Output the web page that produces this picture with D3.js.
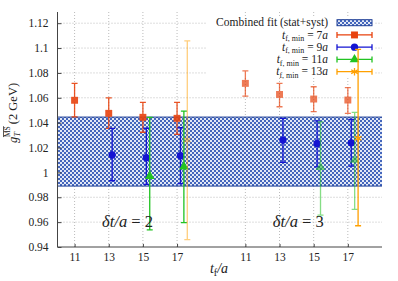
<!DOCTYPE html>
<meta charset="utf-8">
<style>
body { margin: 0; background: #fff; }
text { font-family: "Liberation Serif", serif; fill: #222; }
.grid line { stroke: #bbb; stroke-dasharray: 1,2; }
.axis path, .axis line { stroke: #444; }
</style>
<svg width="398" height="281"></svg>
<script src="https://d3js.org/d3.v7.min.js"></script>
<script>

// fit band (stat+syst)
var fitLo = 0.989, fitHi = 1.0445;

var yTicks = [0.94, 0.96, 0.98, 1, 1.02, 1.04, 1.06, 1.08, 1.1, 1.12];
var xTicks = [11, 13, 15, 17];
var groups = [2, 3];   // delta t / a

// t_f,min = 7a
var tf7 = [11, 13, 15, 17];
var g7dt2 = [1.058, 1.0475, 1.0443, 1.0435];
var g7dt2Lo = [1.0447, 1.0354, 1.0323, 1.0306];
var g7dt2Hi = [1.0716, 1.060, 1.0563, 1.0563];
var g7dt3 = [1.0716, 1.0627, 1.059, 1.0582];
var g7dt3Lo = [1.0614, 1.0528, 1.0488, 1.0475];
var g7dt3Hi = [1.0817, 1.0716, 1.0689, 1.0681];

// t_f,min = 9a
var tf9 = [13, 15, 17];
var g9dt2 = [1.014, 1.0118, 1.0134];
var g9dt2Lo = [0.9933, 0.9904, 0.991];
var g9dt2Hi = [1.0354, 1.0355, 1.0359];
var g9dt3 = [1.026, 1.0233, 1.0238];
var g9dt3Lo = [1.0081, 1.0045, 1.005];
var g9dt3Hi = [1.0435, 1.0415, 1.0426];

// t_f,min = 11a
var tf11 = [15, 17];
var g11dt2 = [0.997, 1.0045];
var g11dt2Lo = [0.9537, 0.9596];
var g11dt2Hi = [1.0443, 1.0493];
var g11dt3 = [1.0041, 1.0099];
var g11dt3Lo = [0.9657, 0.9703];
var g11dt3Hi = [1.0407, 1.0482];

// t_f,min = 13a
var tf13 = [17];
var g13dt2 = [1.026];
var g13dt2Lo = [0.946];
var g13dt2Hi = [1.1058];
var g13dt3 = [1.0274];
var g13dt3Lo = [0.9571];
var g13dt3Hi = [1.0989];

var series = [
  {min: "7a",  color: "#e8420e", shape: d3.symbolSquare,   size: 48, shift: 0,   tf: tf7,
   val: [g7dt2, g7dt3], lo: [g7dt2Lo, g7dt3Lo], hi: [g7dt2Hi, g7dt3Hi], op: [0.9, 0.7]},
  {min: "9a",  color: "#1414d2", shape: d3.symbolCircle,   size: 42, shift: 0.2, tf: tf9,
   val: [g9dt2, g9dt3], lo: [g9dt2Lo, g9dt3Lo], hi: [g9dt2Hi, g9dt3Hi], op: [1, 1]},
  {min: "11a", color: "#22c322", shape: d3.symbolTriangle, size: 40, shift: 0.4, tf: tf11,
   val: [g11dt2, g11dt3], lo: [g11dt2Lo, g11dt3Lo], hi: [g11dt2Hi, g11dt3Hi], op: [1, 0.55]},
  {min: "13a", color: "#ffa000", shape: d3.symbolAsterisk, size: 40, shift: 0.6, tf: tf13,
   val: [g13dt2, g13dt3], lo: [g13dt2Lo, g13dt3Lo], hi: [g13dt2Hi, g13dt3Hi], op: [0.5, 1]}
];

var svg = d3.select("svg");
var pL = 57.5, pR = 382, pT = 12, pB = 247;

// second group placed 10 units to the right on one axis
var x = d3.scaleLinear().domain([10, 29]).range([pL, pR]);
var y = d3.scaleLinear().domain([0.94, 1.129]).range([pB, pT]);
var allX = [];
groups.forEach(function(g, gi) { xTicks.forEach(function(t) { allX.push(t + gi * 10); }); });

var defs = svg.append("defs");
var pat = defs.append("pattern").attr("id", "hatch")
    .attr("patternUnits", "userSpaceOnUse").attr("width", 4).attr("height", 4);
pat.append("rect").attr("width", 4).attr("height", 4).attr("fill", "#e2e8f6");
pat.append("rect").attr("width", 2).attr("height", 2).attr("fill", "#4466bc");
pat.append("rect").attr("x", 2).attr("y", 2).attr("width", 2).attr("height", 2).attr("fill", "#4466bc");

// grid
var grid = svg.append("g").attr("class", "grid");
grid.selectAll(".gx").data(allX).enter().append("line")
    .attr("x1", function(d) { return x(d); }).attr("x2", function(d) { return x(d); })
    .attr("y1", pT).attr("y2", pB);
grid.selectAll(".gy").data(yTicks.slice(1)).enter().append("line")
    .attr("x1", pL).attr("x2", pR)
    .attr("y1", function(d) { return y(d); }).attr("y2", function(d) { return y(d); });

// fit band
svg.append("rect")
    .attr("x", pL).attr("width", pR - pL)
    .attr("y", y(fitHi)).attr("height", y(fitLo) - y(fitHi))
    .attr("fill", "url(#hatch)");
svg.selectAll(".bandedge").data([fitLo, fitHi]).enter().append("line")
    .attr("x1", pL).attr("x2", pR)
    .attr("y1", function(d) { return y(d); }).attr("y2", function(d) { return y(d); })
    .attr("stroke", "#1e3f96").attr("stroke-width", 1);

// axes
var xAxis = d3.axisBottom(x).tickValues(allX).tickSize(-3).tickPadding(6)
    .tickFormat(function(d) { return d > 20 ? d - 10 : d; });
var yAxis = d3.axisLeft(y).tickValues(yTicks).tickSize(-4).tickPadding(9)
    .tickFormat(function(d) { return d3.format("")(+d.toFixed(2)); });
var gx = svg.append("g").attr("class", "axis").attr("transform", "translate(0," + pB + ")").call(xAxis);
gx.select(".domain").attr("d", "M" + pL + ",0H" + pR);
var gy = svg.append("g").attr("class", "axis").attr("transform", "translate(" + pL + ",0)").call(yAxis);
gy.select(".domain").attr("d", "M0," + pT + "V" + pB);
svg.selectAll(".axis text").style("font-family", "Liberation Serif, serif").style("font-size", "11.5px").attr("fill", "#222");

// legend
var lg = svg.append("g");
lg.append("rect").attr("x", 207).attr("y", 16).attr("width", 167).attr("height", 62).attr("fill", "#fff");
var rowY = function(i) { return 22.7 + i * 12.25; };
lg.append("text").attr("x", 328).attr("y", rowY(0) + 3.7).attr("text-anchor", "end")
    .style("font-size", "11.5px").text("Combined fit (stat+syst)");
lg.append("rect").attr("x", 337).attr("y", rowY(0) - 3).attr("width", 35).attr("height", 6)
    .attr("fill", "url(#hatch)").attr("stroke", "#1e3f96");
series.forEach(function(s, i) {
  var ry = rowY(i + 1);
  var t = lg.append("text").attr("x", 328).attr("y", ry + 3.7).attr("text-anchor", "end").style("font-size", "11.5px");
  t.append("tspan").style("font-style", "italic").text("t");
  t.append("tspan").attr("dy", 2.5).style("font-size", "8px").text("f, min");
  t.append("tspan").attr("dy", -2.5).text(" = " + s.min.slice(0, -1));
  t.append("tspan").style("font-style", "italic").text("a");
  lg.append("path").attr("d", "M337," + (ry - 3) + "V" + (ry + 3) + "M337," + ry + "H372M372," + (ry - 3) + "V" + (ry + 3))
      .attr("stroke", s.color).attr("stroke-width", 1.3).attr("fill", "none");
  var sym = lg.append("path").attr("d", d3.symbol().type(s.shape).size(s.size))
      .attr("transform", "translate(354.5," + ry + ")");
  if (s.shape === d3.symbolAsterisk) sym.attr("fill", "none").attr("stroke", s.color).attr("stroke-width", 1.3);
  else sym.attr("fill", s.color);
});

// data points with error bars
series.forEach(function(s) {
  groups.forEach(function(g, gi) {
    var pts = s.tf.map(function(t, k) {
      return {x: t + gi * 10 + s.shift, v: s.val[gi][k], lo: s.lo[gi][k], hi: s.hi[gi][k]};
    });
    var gg = svg.append("g").attr("opacity", s.op[gi]);
    gg.selectAll(".eb").data(pts).enter().append("path")
        .attr("d", function(d) {
          var px = x(d.x), y0 = y(d.lo), y1 = y(d.hi);
          return "M" + px + "," + y0 + "V" + y1 +
                 "M" + (px - 3) + "," + y0 + "H" + (px + 3) +
                 "M" + (px - 3) + "," + y1 + "H" + (px + 3);
        })
        .attr("stroke", s.color).attr("stroke-width", 1.3).attr("fill", "none");
    var m = gg.selectAll(".pt").data(pts).enter().append("path")
        .attr("d", d3.symbol().type(s.shape).size(s.size))
        .attr("transform", function(d) { return "translate(" + x(d.x) + "," + y(d.v) + ")"; });
    if (s.shape === d3.symbolAsterisk) m.attr("fill", "none").attr("stroke", s.color).attr("stroke-width", 1.3);
    else m.attr("fill", s.color);
  });
});

// group annotations
groups.forEach(function(g, gi) {
  var t = svg.append("text").attr("x", x(14.1 + gi * 10)).attr("y", 227)
      .attr("text-anchor", "middle").style("font-size", "16.5px");
  t.append("tspan").style("font-style", "italic").text("\u03b4t/a");
  t.append("tspan").text(" = " + g);
});

// axis titles
var xl = svg.append("text").attr("x", 219).attr("y", 273).attr("text-anchor", "middle").style("font-size", "14px");
xl.append("tspan").style("font-style", "italic").text("t");
xl.append("tspan").attr("dy", 3).style("font-size", "10px").text("f");
xl.append("tspan").attr("dy", -3).style("font-style", "italic").text("/a");

var yl = svg.append("text").attr("transform", "translate(17,113) rotate(-90)")
    .attr("text-anchor", "middle").style("font-size", "12.5px");
yl.append("tspan").style("font-style", "italic").text("g");
yl.append("tspan").attr("dy", 3).style("font-size", "8.5px").style("font-style", "italic").text("T");
yl.append("tspan").attr("dy", -10).attr("dx", -5).style("font-size", "7.5px")
    .style("text-decoration", "overline").text("MS");
yl.append("tspan").attr("dy", 7).attr("dx", 2).text("(2 GeV)");

</script>
